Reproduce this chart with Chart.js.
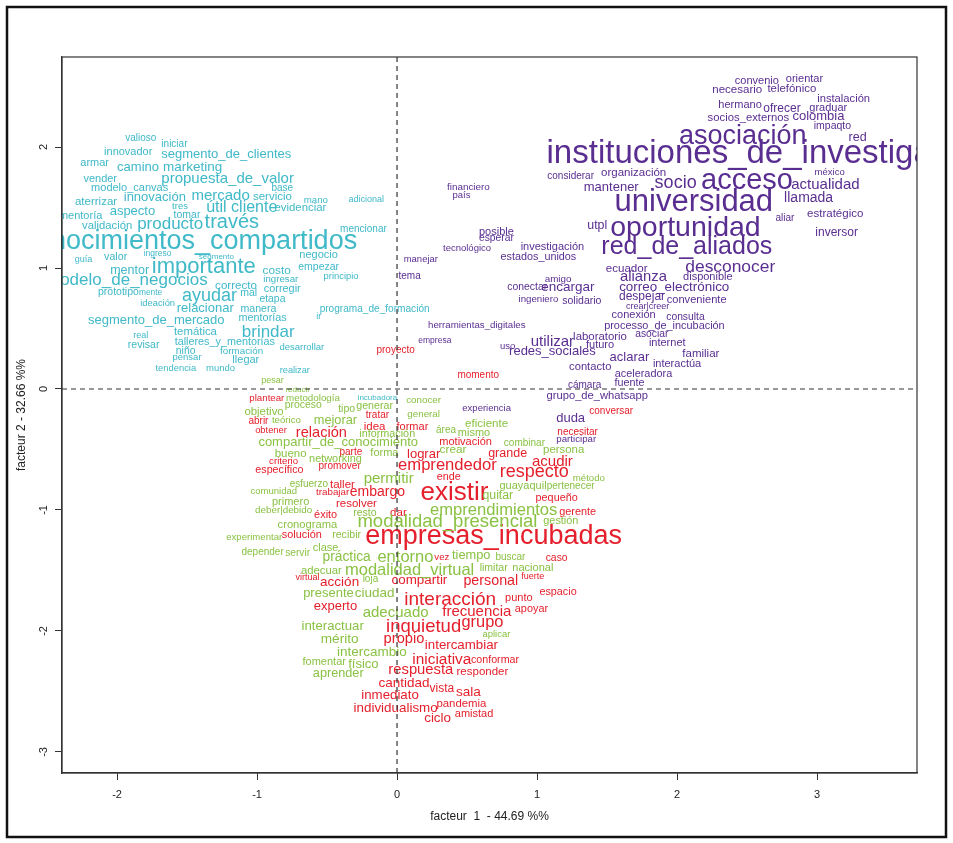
<!DOCTYPE html>
<html>
<head>
<meta charset="utf-8">
<script src="https://cdn.jsdelivr.net/npm/chart.js@4.4.1/dist/chart.umd.min.js"></script>
<style>
  html, body { margin: 0; padding: 0; background: #fff; }
  #wrap { width: 953px; height: 843px; position: relative; }
</style>
</head>
<body>
<div id="wrap"><canvas id="afc" width="953" height="843"></canvas></div>
<script>
// factor axes
const xTicks = [-2, -1, 0, 1, 2, 3];
const yTicks = [-3, -2, -1, 0, 1, 2];
const xTitle = 'facteur  1  - 44.69 %%';
const yTitle = 'facteur 2 - 32.66 %%';

// [word, facteur 1, facteur 2, cex]
const classCyan = [
    ["valioso",-1.83,2.07,1.0], ["iniciar",-1.59,2.02,1.0], ["innovador",-1.92,1.96,1.1],
    ["segmento_de_clientes",-1.22,1.94,1.3], ["armar",-2.16,1.87,1.1], ["camino",-1.85,1.83,1.3],
    ["marketing",-1.46,1.83,1.35], ["vender",-2.12,1.74,1.1], ["propuesta_de_valor",-1.21,1.74,1.5],
    ["modelo_canvas",-1.91,1.66,1.1], ["base",-0.82,1.66,1.0], ["aterrizar",-2.15,1.55,1.15],
    ["innovación",-1.73,1.58,1.3], ["mercado",-1.26,1.60,1.5], ["servicio",-0.89,1.59,1.15],
    ["mano",-0.58,1.56,0.97], ["adicional",-0.22,1.57,0.9], ["tres",-1.55,1.51,0.95],
    ["aspecto",-1.89,1.47,1.3], ["tomar",-1.50,1.44,1.05], ["útil",-1.29,1.50,1.6],
    ["cliente",-1.02,1.50,1.6], ["evidenciar",-0.69,1.50,1.14], ["mentoría",-2.26,1.43,1.1],
    ["validación",-2.07,1.35,1.13], ["producto",-1.62,1.36,1.7], ["través",-1.18,1.38,2.0],
    ["mencionar",-0.24,1.32,1.0], ["conocimientos_compartidos",-1.48,1.22,2.7], ["guía",-2.24,1.07,0.9],
    ["valor",-2.01,1.09,1.07], ["ingreso",-1.71,1.12,0.85], ["segmento",-1.29,1.09,0.8],
    ["negocio",-0.56,1.11,1.1], ["mentor",-1.91,0.98,1.25], ["importante",-1.38,1.01,2.2],
    ["costo",-0.86,0.98,1.18], ["empezar",-0.56,1.01,1.05], ["principio",-0.40,0.93,0.94],
    ["modelo_de_negocios",-1.93,0.90,1.7], ["ingresar",-0.83,0.91,0.97], ["correcto",-1.15,0.85,1.16],
    ["corregir",-0.82,0.83,1.09], ["prototipo",-1.99,0.80,1.05], ["mente",-1.76,0.80,0.84],
    ["ayudar",-1.34,0.77,1.8], ["mal",-1.06,0.79,1.05], ["etapa",-0.89,0.74,1.04],
    ["ideación",-1.71,0.71,0.94], ["relacionar",-1.37,0.67,1.3], ["manera",-0.99,0.66,1.06],
    ["programa_de_formación",-0.16,0.66,1.01], ["ir",-0.56,0.60,0.9], ["segmento_de_mercado",-1.72,0.57,1.3],
    ["mentorías",-0.96,0.59,1.08], ["brindar",-0.92,0.47,1.7], ["temática",-1.44,0.47,1.14],
    ["real",-1.83,0.44,0.9], ["revisar",-1.81,0.36,1.06], ["talleres_y_mentorías",-1.23,0.39,1.08],
    ["desarrollar",-0.68,0.34,0.95], ["niño",-1.51,0.31,1.04], ["pensar",-1.50,0.26,0.95],
    ["formación",-1.11,0.31,0.98], ["llegar",-1.08,0.24,1.1], ["tendencia",-1.58,0.17,0.94],
    ["mundo",-1.26,0.17,0.95], ["realizar",-0.73,0.15,0.92], ["incubadora",-0.14,-0.07,0.8]
];

const classPurple = [
    ["convenio",2.57,2.55,1.1], ["orientar",2.91,2.56,1.1], ["necesario",2.43,2.47,1.15],
    ["telefónico",2.82,2.48,1.14], ["instalación",3.19,2.40,1.12], ["hermano",2.45,2.35,1.1],
    ["ofrecer",2.75,2.32,1.2], ["graduar",3.08,2.32,1.1], ["socios_externos",2.51,2.24,1.13],
    ["colombia",3.01,2.25,1.3], ["impaqto",3.11,2.17,1.05], ["red",3.29,2.08,1.25],
    ["asociación",2.47,2.09,2.7], ["instituciones_de_investigación",2.66,1.94,3.3], ["considerar",1.24,1.76,1.0],
    ["organización",1.69,1.79,1.15], ["méxico",3.09,1.79,0.95], ["acceso",2.50,1.72,2.9],
    ["socio",1.99,1.70,1.8], ["actualidad",3.06,1.69,1.5], ["universidad",2.12,1.54,3.1],
    ["llamada",2.94,1.58,1.4], ["estratégico",3.13,1.45,1.15], ["aliar",2.77,1.41,1.0],
    ["inversor",3.14,1.29,1.2], ["mantener",1.53,1.67,1.3], ["financiero",0.51,1.67,0.99],
    ["país",0.46,1.60,0.95], ["utpl",1.43,1.35,1.24], ["oportunidad",2.06,1.33,2.85],
    ["red_de_aliados",2.07,1.17,2.5], ["posible",0.71,1.30,1.1], ["esperar",0.71,1.25,1.03],
    ["tecnológico",0.50,1.16,0.95], ["investigación",1.11,1.17,1.1], ["manejar",0.17,1.07,0.95],
    ["estados_unidos",1.01,1.09,1.08], ["tema",0.09,0.93,1.0], ["ecuador",1.64,0.99,1.16],
    ["desconocer",2.38,1.01,1.74], ["alianza",1.76,0.93,1.48], ["disponible",2.22,0.93,1.1],
    ["amigo",1.15,0.91,0.98], ["conectar",0.93,0.84,1.04], ["encargar",1.22,0.84,1.35],
    ["correo_electrónico",1.98,0.84,1.34], ["ingeniero",1.01,0.74,0.97], ["solidario",1.32,0.73,1.05],
    ["despejar",1.75,0.76,1.2], ["conveniente",2.14,0.74,1.11], ["crear|creer",1.79,0.68,0.9],
    ["conexión",1.69,0.61,1.1], ["consulta",2.06,0.59,1.03], ["processo_de_incubación",1.91,0.52,1.09],
    ["laboratorio",1.45,0.43,1.14], ["asociar",1.82,0.45,1.03], ["utilizar",1.11,0.39,1.5],
    ["futuro",1.45,0.36,1.1], ["internet",1.93,0.38,1.1], ["redes_sociales",1.11,0.31,1.3],
    ["aclarar",1.66,0.26,1.3], ["familiar",2.17,0.29,1.15], ["interactúa",2.00,0.21,1.1],
    ["contacto",1.38,0.18,1.12], ["aceleradora",1.76,0.12,1.09], ["cámara",1.34,0.03,1.0],
    ["fuente",1.66,0.05,1.08], ["grupo_de_whatsapp",1.43,-0.06,1.12], ["herramientas_digitales",0.57,0.53,0.97],
    ["empresa",0.27,0.40,0.85], ["uso",0.79,0.35,0.95], ["experiencia",0.64,-0.16,0.95],
    ["duda",1.24,-0.24,1.3], ["participar",1.28,-0.42,0.97]
];

const classRed = [
    ["proyecto",-0.01,0.32,1.0], ["momento",0.58,0.11,1.0], ["conversar",1.53,-0.18,1.0],
    ["necesitar",1.29,-0.36,1.0], ["plantear",-0.93,-0.08,0.97], ["tratar",-0.14,-0.22,1.0],
    ["abrir",-0.99,-0.27,1.0], ["idea",-0.16,-0.31,1.15], ["formar",0.11,-0.31,1.1],
    ["obtener",-0.90,-0.34,0.94], ["relación",-0.54,-0.36,1.46], ["motivación",0.49,-0.44,1.1],
    ["parte",-0.33,-0.52,1.0], ["lograr",0.19,-0.54,1.3], ["grande",0.79,-0.53,1.25],
    ["criterio",-0.81,-0.60,0.97], ["promover",-0.41,-0.64,1.0], ["específico",-0.84,-0.67,1.07],
    ["emprendedor",0.36,-0.63,1.66], ["acudir",1.11,-0.60,1.5], ["respecto",0.98,-0.69,1.8],
    ["ende",0.37,-0.73,1.08], ["taller",-0.39,-0.79,1.15], ["trabajar",-0.46,-0.85,0.98],
    ["embargo",-0.14,-0.85,1.4], ["existir",0.41,-0.86,2.6], ["pequeño",1.14,-0.90,1.08],
    ["resolver",-0.29,-0.95,1.15], ["dar",0.01,-1.02,1.15], ["éxito",-0.51,-1.04,1.09],
    ["gerente",1.29,-1.02,1.09], ["empresas_incubadas",0.69,-1.22,2.7], ["solución",-0.68,-1.21,1.09],
    ["caso",1.14,-1.40,1.04], ["vez",0.32,-1.39,0.96], ["virtual",-0.64,-1.56,0.9],
    ["acción",-0.41,-1.60,1.35], ["compartir",0.16,-1.58,1.34], ["personal",0.67,-1.59,1.43],
    ["fuerte",0.97,-1.55,0.9], ["espacio",1.15,-1.68,1.08], ["interacción",0.38,-1.74,1.9],
    ["punto",0.87,-1.73,1.1], ["experto",-0.44,-1.80,1.3], ["apoyar",0.96,-1.82,1.09],
    ["frecuencia",0.57,-1.84,1.5], ["inquietud",0.19,-1.97,1.85], ["grupo",0.61,-1.93,1.64],
    ["propio",0.05,-2.07,1.47], ["intercambiar",0.46,-2.12,1.33], ["iniciativa",0.32,-2.24,1.54],
    ["conformar",0.70,-2.24,1.07], ["respuesta",0.17,-2.32,1.48], ["responder",0.61,-2.34,1.15],
    ["cantidad",0.05,-2.43,1.35], ["vista",0.32,-2.48,1.2], ["sala",0.51,-2.51,1.36],
    ["inmediato",-0.05,-2.53,1.33], ["pandemia",0.46,-2.60,1.14], ["individualismo",-0.01,-2.64,1.34],
    ["ciclo",0.29,-2.72,1.35], ["amistad",0.55,-2.69,1.1]
];

const classGreen = [
    ["pesar",-0.89,0.07,0.9], ["reducir",-0.71,-0.01,0.8], ["metodología",-0.60,-0.08,0.98],
    ["conocer",0.19,-0.09,0.98], ["proceso",-0.67,-0.13,1.04], ["tipo",-0.36,-0.17,1.05],
    ["generar",-0.16,-0.14,1.07], ["general",0.19,-0.21,0.98], ["objetivo",-0.95,-0.19,1.14],
    ["teórico",-0.79,-0.26,0.97], ["mejorar",-0.44,-0.26,1.28], ["eficiente",0.64,-0.29,1.16],
    ["área",0.35,-0.34,1.0], ["mismo",0.55,-0.36,1.1], ["información",-0.07,-0.37,1.08],
    ["compartir_de_conocimiento",-0.42,-0.44,1.3], ["crear",0.40,-0.50,1.18], ["combinar",0.91,-0.45,1.0],
    ["persona",1.19,-0.50,1.14], ["bueno",-0.76,-0.54,1.15], ["networking",-0.44,-0.58,1.09],
    ["forma",-0.09,-0.53,1.1], ["permitir",-0.06,-0.74,1.5], ["método",1.37,-0.74,0.97],
    ["esfuerzo",-0.63,-0.79,1.0], ["comunidad",-0.88,-0.85,0.95], ["guayaquil",0.90,-0.80,1.1],
    ["pertenecer",1.24,-0.80,1.0], ["quitar",0.72,-0.88,1.23], ["primero",-0.76,-0.93,1.1],
    ["deber|debido",-0.81,-1.00,0.98], ["resto",-0.23,-1.03,1.05], ["emprendimientos",0.69,-1.00,1.66],
    ["cronograma",-0.64,-1.12,1.12], ["modalidad_presencial",0.36,-1.10,1.85], ["gestión",1.17,-1.09,1.09],
    ["experimentar",-1.02,-1.23,0.96], ["recibir",-0.36,-1.21,1.06], ["clase",-0.51,-1.31,1.1],
    ["depender",-0.96,-1.35,1.0], ["servir",-0.71,-1.36,1.02], ["práctica",-0.36,-1.39,1.38],
    ["entorno",0.06,-1.39,1.65], ["tiempo",0.53,-1.38,1.28], ["buscar",0.81,-1.39,1.0],
    ["adecuar",-0.54,-1.50,1.13], ["modalidad_virtual",0.09,-1.50,1.65], ["limitar",0.69,-1.48,1.05],
    ["nacional",0.97,-1.48,1.1], ["loja",-0.19,-1.57,1.0], ["presente",-0.49,-1.69,1.3],
    ["ciudad",-0.16,-1.69,1.35], ["adecuado",-0.01,-1.85,1.5], ["interactuar",-0.46,-1.96,1.32],
    ["aplicar",0.71,-2.03,0.95], ["mérito",-0.41,-2.07,1.36], ["intercambio",-0.18,-2.18,1.35],
    ["fomentar",-0.52,-2.26,1.1], ["físico",-0.24,-2.28,1.3], ["aprender",-0.42,-2.35,1.27]
];

const FONT = '"Liberation Sans", Arial, sans-serif';
const classes = [
    { rows: classCyan, color: '#40b9c8' },
    { rows: classPurple, color: '#5a2e91' },
    { rows: classRed, color: '#e5202c' },
    { rows: classGreen, color: '#8ac244' }
];

// words drawn at their point positions
const wordPlugin = {
    id: 'words',
    afterDatasetsDraw(chart) {
        const { ctx, chartArea: a } = chart;
        ctx.save();
        ctx.beginPath();
        ctx.rect(a.left, a.top, a.right - a.left, a.bottom - a.top);
        ctx.clip();
        ctx.textAlign = 'center';
        ctx.textBaseline = 'middle';
        chart.data.datasets.forEach((ds, i) => {
            const meta = chart.getDatasetMeta(i);
            ctx.fillStyle = ds.wordColor;
            meta.data.forEach((el, j) => {
                const row = ds.rows[j];
                ctx.font = (row[3] * 10).toFixed(1) + 'px ' + FONT;
                ctx.fillText(row[0], el.x, el.y);
            });
        });
        ctx.restore();
    },
    afterDraw(chart) {
        const { ctx, chartArea: a, scales } = chart;
        const x0 = scales.x.getPixelForValue(0);
        const y0 = scales.y.getPixelForValue(0);

        ctx.save();
        // zero lines
        ctx.strokeStyle = '#333';
        ctx.lineWidth = 1.2;
        ctx.setLineDash([5, 4]);
        ctx.beginPath();
        ctx.moveTo(x0, a.top); ctx.lineTo(x0, a.bottom);
        ctx.moveTo(a.left, y0); ctx.lineTo(a.right, y0);
        ctx.stroke();
        ctx.setLineDash([]);

        // plot box
        ctx.lineWidth = 1.2;
        ctx.strokeRect(a.left, a.top, a.right - a.left, a.bottom - a.top);

        // y tick labels, R style (parallel to axis)
        ctx.fillStyle = '#222';
        ctx.font = '11px ' + FONT;
        ctx.textAlign = 'center';
        ctx.textBaseline = 'middle';
        scales.y.ticks.forEach(t => {
            const py = scales.y.getPixelForValue(t.value);
            ctx.save();
            ctx.translate(44, py);
            ctx.rotate(-Math.PI / 2);
            ctx.fillText(String(t.value), 0, 0);
            ctx.restore();
        });

        // axis titles
        ctx.font = '12px ' + FONT;
        ctx.fillText(xTitle, (a.left + a.right) / 2, 817);
        ctx.save();
        ctx.translate(22, (a.top + a.bottom) / 2);
        ctx.rotate(-Math.PI / 2);
        ctx.fillText(yTitle, 0, 0);
        ctx.restore();

        // outer frame
        ctx.strokeStyle = '#111';
        ctx.lineWidth = 2.5;
        ctx.strokeRect(7, 7, 939, 830);
        ctx.restore();
    }
};

new Chart(document.getElementById('afc'), {
    type: 'scatter',
    data: {
        datasets: classes.map(c => ({
            data: c.rows.map(r => ({ x: r[1], y: r[2] })),
            rows: c.rows,
            wordColor: c.color,
            pointRadius: 0,
            pointHoverRadius: 0
        }))
    },
    options: {
        responsive: false,
        animation: false,
        devicePixelRatio: 1,
        layout: { padding: { top: 57, right: 36, left: 0, bottom: 0 } },
        plugins: { legend: { display: false }, tooltip: { enabled: false } },
        scales: {
            x: {
                type: 'linear',
                min: -2.393,
                max: 3.714,
                afterBuildTicks: s => { s.ticks = xTicks.map(v => ({ value: v })); },
                afterFit: s => { s.height = 70; },
                grid: { drawOnChartArea: false, drawTicks: true, tickLength: 7, color: '#333' },
                border: { display: true, color: '#333', width: 1.2 },
                ticks: { color: '#222', padding: 8, font: { family: FONT, size: 11 } }
            },
            y: {
                type: 'linear',
                min: -3.174,
                max: 2.744,
                afterBuildTicks: s => { s.ticks = yTicks.map(v => ({ value: v })); },
                afterFit: s => { s.width = 62; },
                grid: { drawOnChartArea: false, drawTicks: true, tickLength: 7, color: '#333' },
                border: { display: true, color: '#333', width: 1.2 },
                ticks: { display: false }
            }
        }
    },
    plugins: [wordPlugin]
});
</script>
</body>
</html>
